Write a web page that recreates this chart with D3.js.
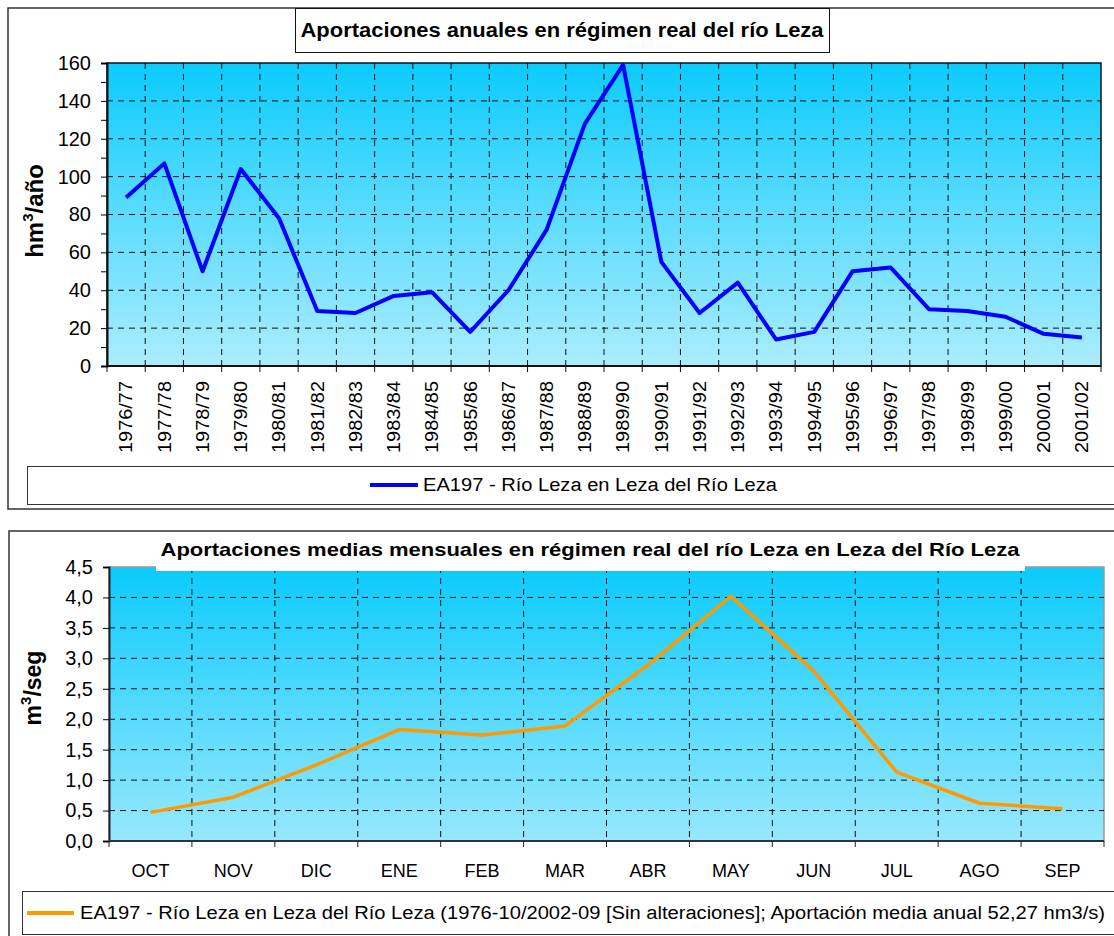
<!DOCTYPE html>
<html>
<head>
<meta charset="utf-8">
<script src="https://cdn.jsdelivr.net/npm/d3@7"></script>
<style>
  body { margin: 0; background: #fff; }
  text { font-family: "Liberation Sans", Arial, sans-serif; fill: #000; }
</style>
</head>
<body>
<svg id="chart" width="1114" height="936"></svg>
<script>
var years = ["1976/77", "1977/78", "1978/79", "1979/80", "1980/81", "1981/82", "1982/83",
    "1983/84", "1984/85", "1985/86", "1986/87", "1987/88", "1988/89", "1989/90", "1990/91",
    "1991/92", "1992/93", "1993/94", "1994/95", "1995/96", "1996/97", "1997/98", "1998/99",
    "1999/00", "2000/01", "2001/02"];
var annual_data = [89, 107, 50, 104, 78, 29, 28, 37, 39, 18, 40, 72, 128, 159, 55, 28, 44, 14,
    18, 50, 52, 30, 29, 26, 17, 15];
var annual_ticks = [0, 20, 40, 60, 80, 100, 120, 140, 160];

var months = ["OCT", "NOV", "DIC", "ENE", "FEB", "MAR", "ABR", "MAY", "JUN", "JUL", "AGO", "SEP"];
var monthly_data = [0.47, 0.72, 1.25, 1.83, 1.74, 1.89, 2.89, 4.02, 2.79, 1.13, 0.62, 0.53];
var monthly_ticks = [0, 0.5, 1, 1.5, 2, 2.5, 3, 3.5, 4, 4.5];

var svg = d3.select("#chart");
var defs = svg.append("defs");

function gradient(id, bottom) {
    var g = defs.append("linearGradient").attr("id", id)
        .attr("x1", 0).attr("y1", 0).attr("x2", 0).attr("y2", 1);
    g.append("stop").attr("offset", "0%").attr("stop-color", "#0bcbfd");
    g.append("stop").attr("offset", "100%").attr("stop-color", bottom);
}
gradient("bg-top", "#abedfd");
gradient("bg-bottom", "#97e8fd");

var dash = "6,5";
var grid_color = "#111";

// ---------- top chart: annual ----------
svg.append("rect").attr("x", 8).attr("y", 8).attr("width", 1200).attr("height", 501)
    .attr("fill", "#fff").attr("stroke", "#333").attr("stroke-width", 1.5);

var m1 = {left: 107, top: 63, width: 994, height: 303};
var g1 = svg.append("g").attr("transform", "translate(" + m1.left + "," + m1.top + ")");

var x1 = d3.scaleBand().domain(years).range([0, m1.width]);
var y1 = d3.scaleLinear().domain([0, 160]).range([m1.height, 0]);

g1.append("rect").attr("width", m1.width).attr("height", m1.height)
    .attr("fill", "url(#bg-top)").attr("stroke", "#111").attr("stroke-width", 1.5);

g1.append("g").selectAll("line")
    .data(annual_ticks.slice(1, -1))
    .enter().append("line")
    .attr("x1", 0).attr("x2", m1.width)
    .attr("y1", d => y1(d)).attr("y2", d => y1(d))
    .attr("stroke", grid_color).attr("stroke-dasharray", dash);

g1.append("g").selectAll("line")
    .data(years.slice(1))
    .enter().append("line")
    .attr("x1", d => x1(d)).attr("x2", d => x1(d))
    .attr("y1", 0).attr("y2", m1.height)
    .attr("stroke", grid_color).attr("stroke-dasharray", dash);

// y axis with minor ticks
g1.append("g")
    .call(d3.axisLeft(y1).tickValues(d3.range(10, 160, 20)).tickSize(6).tickFormat(""))
    .call(g => g.select(".domain").remove());
g1.append("g")
    .call(d3.axisLeft(y1).tickValues(annual_ticks).tickSize(6).tickPadding(10))
    .call(g => g.selectAll("text").style("font-size", "20px"))
    .call(g => g.select(".domain").attr("stroke", "#111").attr("stroke-width", 2));

// x axis: ticks on the category boundaries
var gx1 = g1.append("g").attr("transform", "translate(0," + m1.height + ")");
gx1.append("line").attr("x1", 0).attr("x2", m1.width).attr("stroke", "#111").attr("stroke-width", 2);
gx1.selectAll(".tick")
    .data(years.map(d => x1(d)).concat([m1.width]))
    .enter().append("line")
    .attr("x1", d => d).attr("x2", d => d).attr("y1", 0).attr("y2", 6)
    .attr("stroke", "#111");
gx1.selectAll(".label")
    .data(years)
    .enter().append("text")
    .attr("transform", d => "translate(" + (x1(d) + x1.bandwidth() / 2) + ",15) rotate(-90)")
    .attr("text-anchor", "end").attr("dy", "0.35em")
    .attr("textLength", 72).attr("lengthAdjust", "spacingAndGlyphs")
    .style("font-size", "18px")
    .text(d => d);

var line1 = d3.line().x(d => x1(d.x) + x1.bandwidth() / 2).y(d => y1(d.y));
g1.append("path")
    .attr("d", line1(years.map((d, i) => ({x: d, y: annual_data[i]}))))
    .attr("fill", "none").attr("stroke", "#0000ff").attr("stroke-width", 4)
    .attr("stroke-linejoin", "round");

// title
svg.append("rect").attr("x", 295.5).attr("y", 8.5).attr("width", 534).attr("height", 44)
    .attr("fill", "#fff").attr("stroke", "#111");
svg.append("text").attr("x", 562).attr("y", 37).attr("text-anchor", "middle")
    .attr("textLength", 523).attr("lengthAdjust", "spacingAndGlyphs")
    .style("font-size", "20px").style("font-weight", "bold")
    .text("Aportaciones anuales en régimen real del río Leza");

var yt1 = svg.append("text").attr("transform", "translate(43,211) rotate(-90)")
    .attr("text-anchor", "middle").style("font-size", "24px").style("font-weight", "bold");
yt1.append("tspan").text("hm");
yt1.append("tspan").attr("dy", -10).style("font-size", "15px").text("3");
yt1.append("tspan").attr("dy", 10).text("/año");

// legend
svg.append("rect").attr("x", 27.5).attr("y", 466.5).attr("width", 1200).attr("height", 38)
    .attr("fill", "#fff").attr("stroke", "#333");
svg.append("line").attr("x1", 370).attr("x2", 418).attr("y1", 485).attr("y2", 485)
    .attr("stroke", "#0000ff").attr("stroke-width", 4);
svg.append("text").attr("x", 423).attr("y", 491)
    .attr("textLength", 354).attr("lengthAdjust", "spacingAndGlyphs")
    .style("font-size", "18px")
    .text("EA197 - Río Leza en Leza del Río Leza");

// ---------- bottom chart: monthly ----------
svg.append("rect").attr("x", 9).attr("y", 531).attr("width", 1200).attr("height", 500)
    .attr("fill", "#fff").attr("stroke", "#333").attr("stroke-width", 1.5);

var m2 = {left: 109, top: 567, width: 995, height: 274};
var g2 = svg.append("g").attr("transform", "translate(" + m2.left + "," + m2.top + ")");

var x2 = d3.scaleBand().domain(months).range([0, m2.width]);
var y2 = d3.scaleLinear().domain([0, 4.5]).range([m2.height, 0]);

g2.append("rect").attr("width", m2.width).attr("height", m2.height)
    .attr("fill", "url(#bg-bottom)").attr("stroke", "#999").attr("stroke-width", 1.5);

g2.append("g").selectAll("line")
    .data(monthly_ticks.slice(1, -1))
    .enter().append("line")
    .attr("x1", 0).attr("x2", m2.width)
    .attr("y1", d => y2(d)).attr("y2", d => y2(d))
    .attr("stroke", grid_color).attr("stroke-dasharray", dash);

g2.append("g").selectAll("line")
    .data(months.slice(1))
    .enter().append("line")
    .attr("x1", d => x2(d)).attr("x2", d => x2(d))
    .attr("y1", 0).attr("y2", m2.height)
    .attr("stroke", grid_color).attr("stroke-dasharray", dash);

g2.append("g")
    .call(d3.axisLeft(y2).tickValues(monthly_ticks).tickSize(6).tickPadding(10)
        .tickFormat(d => d3.format(".1f")(d).replace(".", ",")))
    .call(g => g.selectAll("text").style("font-size", "20px"))
    .call(g => g.select(".domain").attr("stroke", "#222").attr("stroke-width", 2));

var gx2 = g2.append("g").attr("transform", "translate(0," + m2.height + ")");
gx2.append("line").attr("x1", 0).attr("x2", m2.width).attr("stroke", "#333").attr("stroke-width", 2);
gx2.selectAll(".tick")
    .data(months.map(d => x2(d)).concat([m2.width]))
    .enter().append("line")
    .attr("x1", d => d).attr("x2", d => d).attr("y1", 0).attr("y2", 6)
    .attr("stroke", "#222");
gx2.selectAll(".label")
    .data(months)
    .enter().append("text")
    .attr("x", d => x2(d) + x2.bandwidth() / 2).attr("y", 36)
    .attr("text-anchor", "middle").style("font-size", "18px")
    .text(d => d);

var line2 = d3.line().x(d => x2(d.x) + x2.bandwidth() / 2).y(d => y2(d.y));
g2.append("path")
    .attr("d", line2(months.map((d, i) => ({x: d, y: monthly_data[i]}))))
    .attr("fill", "none").attr("stroke", "#ff9900").attr("stroke-width", 3.5)
    .attr("stroke-linejoin", "round");

// title sits on a white box over the plot top
svg.append("rect").attr("x", 156).attr("y", 533).attr("width", 869).attr("height", 38)
    .attr("fill", "#fff");
svg.append("text").attr("x", 590).attr("y", 556).attr("text-anchor", "middle")
    .attr("textLength", 859).attr("lengthAdjust", "spacingAndGlyphs")
    .style("font-size", "19px").style("font-weight", "bold")
    .text("Aportaciones medias mensuales en régimen real del río Leza en Leza del Río Leza");

var yt2 = svg.append("text").attr("transform", "translate(41,688) rotate(-90)")
    .attr("text-anchor", "middle").style("font-size", "23px").style("font-weight", "bold");
yt2.append("tspan").text("m");
yt2.append("tspan").attr("dy", -10).style("font-size", "15px").text("3");
yt2.append("tspan").attr("dy", 10).text("/seg");

svg.append("rect").attr("x", 22.5).attr("y", 891.5).attr("width", 1200).attr("height", 43)
    .attr("fill", "#fff").attr("stroke", "#333");
svg.append("line").attr("x1", 27).attr("x2", 74).attr("y1", 913).attr("y2", 913)
    .attr("stroke", "#ff9900").attr("stroke-width", 4);
svg.append("text").attr("x", 80).attr("y", 919)
    .attr("textLength", 1025).attr("lengthAdjust", "spacingAndGlyphs")
    .style("font-size", "18px")
    .text("EA197 - Río Leza en Leza del Río Leza (1976-10/2002-09 [Sin alteraciones]; Aportación media anual 52,27 hm3/s)");
</script>
</body>
</html>
